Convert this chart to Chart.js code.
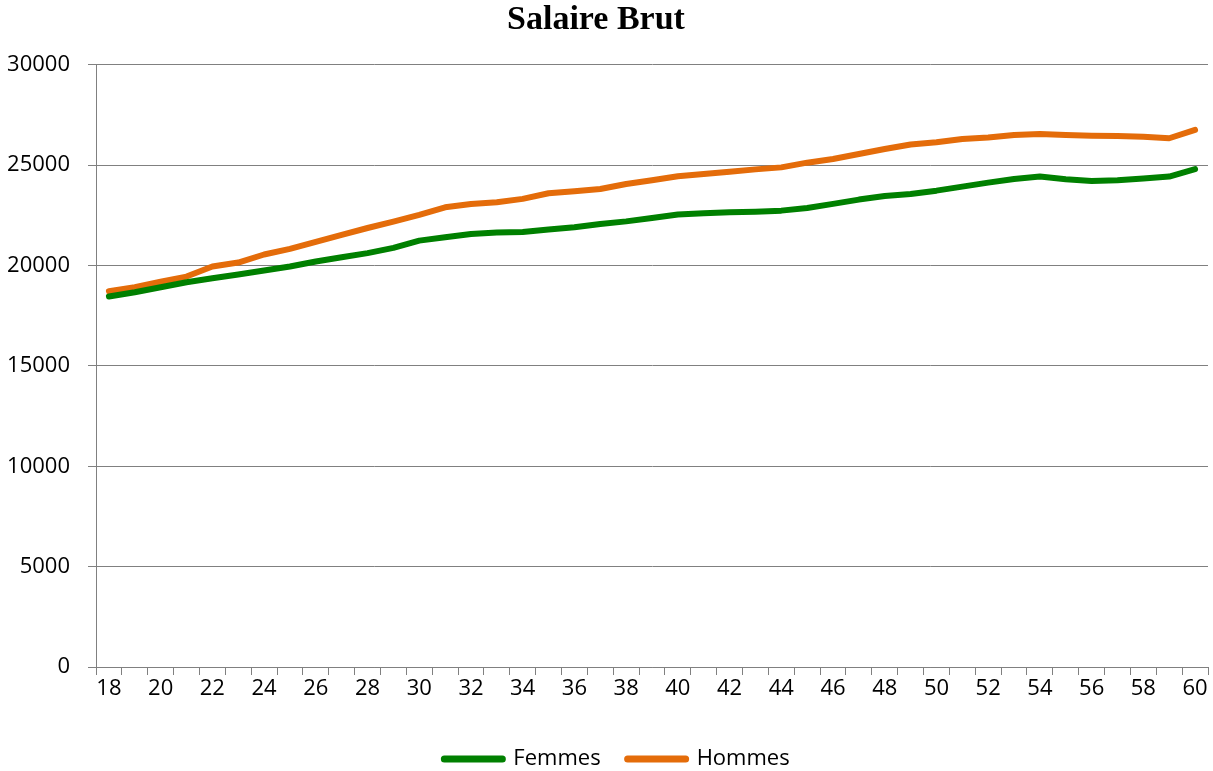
<!DOCTYPE html>
<html><head><meta charset="utf-8">
<script src="https://cdn.jsdelivr.net/npm/chart.js@4.4.1/dist/chart.umd.min.js"></script>
<style>html,body{margin:0;padding:0;background:#fff}#wrap{width:1213px;height:771px}</style>
</head><body><div id="wrap"><canvas id="c" width="1213" height="771"></canvas></div>
<script>
const ages = [18,19,20,21,22,23,24,25,26,27,28,29,30,31,32,33,34,35,36,37,38,39,40,41,42,43,44,45,46,47,48,49,50,51,52,53,54,55,56,57,58,59,60];
const femmes = [18460,18670,18920,19170,19370,19550,19750,19950,20200,20410,20620,20880,21240,21410,21575,21640,21675,21790,21905,22070,22200,22370,22540,22600,22650,22685,22735,22870,23070,23285,23465,23560,23730,23930,24130,24310,24430,24300,24210,24245,24340,24430,24800];
const hommes = [18720,18920,19190,19450,19950,20150,20550,20830,21180,21530,21870,22190,22520,22900,23070,23150,23320,23600,23700,23810,24060,24250,24445,24560,24675,24790,24890,25125,25305,25555,25805,26030,26140,26300,26380,26500,26550,26500,26470,26450,26420,26340,26760];
const yTicks = [0,5000,10000,15000,20000,25000,30000];
const seriesNames = ['Femmes','Hommes'];
const seriesColors = ['#008000','#E46C0A'];

const axisFont = {family:'"Open Sans", sans-serif', size:22};
const placeBlocks = {
  id:'placeBlocks',
  afterLayout(chart){
    const lg = chart.legend;
    const shift = 757 - (lg.top + 27 + 9);
    lg.top += shift; lg.bottom += shift;
    lg.left += 11; lg.right += 11;
    const t = chart.titleBlock;
    t.left -= 10; t.right -= 10;
  }
};
new Chart(document.getElementById('c'), {
  type:'line',
  data:{
    labels: ages.map(String),
    datasets:[
      {label:seriesNames[0], data:femmes, borderColor:seriesColors[0], backgroundColor:seriesColors[0], borderWidth:6, pointRadius:0, tension:0, borderCapStyle:'round', borderJoinStyle:'round'},
      {label:seriesNames[1], data:hommes, borderColor:seriesColors[1], backgroundColor:seriesColors[1], borderWidth:6, pointRadius:0, tension:0, borderCapStyle:'round', borderJoinStyle:'round'}
    ]
  },
  plugins:[placeBlocks],
  options:{
    responsive:false, animation:false, devicePixelRatio:1,
    layout:{padding:{left:4,right:5,top:0,bottom:0}},
    plugins:{
      tooltip:{enabled:false},
      title:{display:true, text:'Salaire Brut', color:'#000', font:{family:'"Liberation Serif", serif', size:34, weight:'bold'}, padding:{top:0,bottom:24}},
      legend:{position:'bottom', labels:{
        color:'#000', font:{family:'"Open Sans", sans-serif', size:22}, usePointStyle:true, pointStyle:'line', pointStyleWidth:58, padding:27,
        generateLabels:(chart)=>chart.data.datasets.map((d,i)=>({text:d.label, fillStyle:d.borderColor, strokeStyle:d.borderColor, lineWidth:7, lineCap:'round', pointStyle:'line', datasetIndex:i, fontColor:'#000'}))
      }}
    },
    scales:{
      x:{
        offset:true,
        afterFit:(s)=>{ const lh = s.chart.legend ? (s.chart.legend.height||0) : 0; s.height = Math.max(10, 771 - 667 - lh); },
        grid:{offset:true, drawOnChartArea:false, drawTicks:true, tickLength:8, color:'#808080', lineWidth:1},
        border:{display:true, color:'#808080', width:1},
        ticks:{autoSkip:false, maxRotation:0, color:'#000', font:axisFont, padding:1,
          callback:(v,i)=> i%2===0 ? String(ages[i]) : ''}
      },
      y:{
        min:0, max:30000,
        afterBuildTicks:(s)=>{s.ticks = yTicks.map(v=>({value:v}));},
        afterFit:(s)=>{s.width = 92;},
        grid:{color:'#808080', lineWidth:1, tickLength:8},
        border:{display:true, color:'#808080', width:1},
        ticks:{color:'#000', font:axisFont, padding:18, callback:(v)=>String(v)}
      }
    }
  }
});
</script></body></html>
